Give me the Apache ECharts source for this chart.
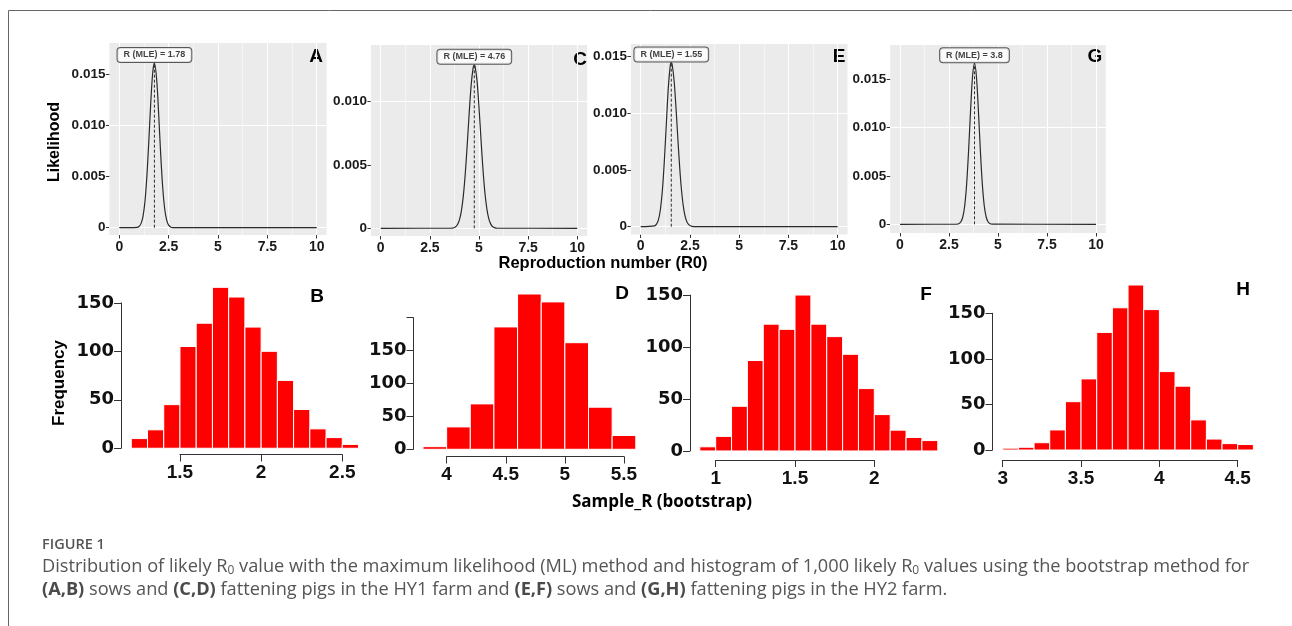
<!DOCTYPE html>
<html><head><meta charset="utf-8">
<script src="https://cdn.jsdelivr.net/npm/echarts@6/dist/echarts.min.js"></script>
<style>html,body{margin:0;padding:0;background:#fff}#c{width:1292px;height:626px}</style>
</head><body><div id="c"></div><script>
// ---------------- DATA ----------------
const mleLetters = ['A', 'C', 'E', 'G'];
const histLetters = ['B', 'D', 'F', 'H'];
const mleValues = [1.78, 4.76, 1.55, 3.8];
const mlePeaks = [0.0161, 0.0129, 0.01446, 0.01666];

const curveAx = [0, 0.9, 1.0, 1.1, 1.2, 1.3, 1.4, 1.5, 1.6, 1.7, 1.78, 1.9, 2.0, 2.1, 2.2, 2.3, 2.4, 2.5, 2.6, 2.7, 10];
const curveAy = [0, 0.00003, 0.00012, 0.0004, 0.00109, 0.00255, 0.00507, 0.0086, 0.01243, 0.0153, 0.0161, 0.01435, 0.01093, 0.0071, 0.00393, 0.00185, 0.00074, 0.00025, 0.00007, 0, 0];
const curveCx = [0, 3.6, 3.8, 3.9, 4.0, 4.1, 4.2, 4.3, 4.4, 4.5, 4.6, 4.7, 4.76, 4.8, 4.9, 5.0, 5.1, 5.2, 5.3, 5.4, 5.5, 5.6, 5.7, 5.9, 10];
const curveCy = [0, 0.00001, 0.00011, 0.00028, 0.00064, 0.00134, 0.00252, 0.00429, 0.00657, 0.00907, 0.01129, 0.01266, 0.0129, 0.01279, 0.01165, 0.00956, 0.00707, 0.00471, 0.00283, 0.00153, 0.00075, 0.00033, 0.00013, 0.00001, 0];
const curveEx = [0, 0.7, 0.8, 0.9, 1.0, 1.1, 1.2, 1.3, 1.4, 1.5, 1.55, 1.6, 1.7, 1.8, 1.9, 2.0, 2.1, 2.2, 2.3, 2.4, 2.5, 2.6, 2.8, 10];
const curveEy = [0, 0.00007, 0.00023, 0.00063, 0.00154, 0.00323, 0.00584, 0.0091, 0.01224, 0.0142, 0.01446, 0.01426, 0.01276, 0.01021, 0.00732, 0.00469, 0.00269, 0.00138, 0.00063, 0.00026, 0.0001, 0.00003, 0, 0];
const curveGx = [0, 2.9, 3.0, 3.1, 3.2, 3.3, 3.4, 3.5, 3.6, 3.7, 3.8, 3.9, 4.0, 4.1, 4.2, 4.3, 4.4, 4.5, 4.6, 4.7, 10];
const curveGy = [0, 0.00002, 0.00006, 0.00024, 0.00073, 0.0019, 0.00416, 0.00763, 0.01177, 0.01528, 0.01666, 0.01528, 0.01177, 0.00763, 0.00416, 0.0019, 0.00073, 0.00024, 0.00006, 0.00002, 0];

const likXTicks = [0, 2.5, 5, 7.5, 10];
const likYTicksA = [0, 0.005, 0.010, 0.015];
const likYTicksC = [0, 0.005, 0.010];
const likYTicksE = [0, 0.005, 0.010, 0.015];
const likYTicksG = [0, 0.005, 0.010, 0.015];

const histStarts = [1.2, 3.8, 0.9, 3.0];
const histBinWidths = [0.1, 0.2, 0.1, 0.1];
const countsB = [10, 19, 45, 105, 129, 166, 156, 125, 100, 70, 40, 20, 11, 4];
const countsD = [4, 34, 69, 186, 236, 224, 162, 64, 21];
const countsF = [4, 14, 43, 87, 122, 117, 150, 122, 110, 93, 60, 35, 20, 13, 10];
const countsH = [2, 3, 8, 22, 53, 78, 129, 156, 181, 154, 86, 70, 33, 12, 7, 6];

const histXTicksB = [1.5, 2, 2.5];
const histXTicksD = [4, 4.5, 5, 5.5];
const histXTicksF = [1, 1.5, 2];
const histXTicksH = [3, 3.5, 4, 4.5];
const histYTicksB = [0, 50, 100, 150];
const histYTicksD = [0, 50, 100, 150, 200];
const histYTicksF = [0, 50, 100, 150];
const histYTicksH = [0, 50, 100, 150];
const histYUnlabelled = [[], [200], [], []];

const yTitleTop = 'Likelihood';
const yTitleBottom = 'Frequency';
const xTitleTop = 'Reproduction number (R0)';
const xTitleBottom = 'Sample_R (bootstrap)';
const labelPrefix = 'R (MLE) = ';

// ---------------- LAYOUT ----------------
const plotFont = '"Liberation Sans", Arial, Helvetica, sans-serif';
const wideFont = '"DejaVu Sans", Verdana, sans-serif';
const curvesX = [curveAx, curveCx, curveEx, curveGx];
const curvesY = [curveAy, curveCy, curveEy, curveGy];
const likYTicks = [likYTicksA, likYTicksC, likYTicksE, likYTicksG];
const counts = [countsB, countsD, countsF, countsH];
const histXTicks = [histXTicksB, histXTicksD, histXTicksF, histXTicksH];
const histYTicks = [histYTicksB, histYTicksD, histYTicksF, histYTicksH];

const topXRange = [-0.5, 10.5];
const topLayout = [
  {l: 109.4, r: 326.6, t: 43, b: 235, ymin: -0.000714, ymax: 0.01807},
  {l: 370.9, r: 587.1, t: 45, b: 236, ymin: -0.000608, ymax: 0.01448},
  {l: 630.9, r: 847.5, t: 44, b: 234.5, ymin: -0.000688, ymax: 0.01611},
  {l: 890.2, r: 1105.8, t: 45, b: 233, ymin: -0.0009, ymax: 0.01856}
];
const botLayout = [
  {l: 122.2, r: 367.6, t: 280.9, b: 454.7, axX: 121, axY: 454.5},
  {l: 414.5, r: 644.3, t: 287.8, b: 455.5, axX: 413.5, axY: 456.5},
  {l: 690.3, r: 947.3, t: 288.8, b: 457.2, axX: 690, axY: 460},
  {l: 992.7, r: 1263.4, t: 278.4, b: 456.6, axX: 992.5, axY: 460}
];
const topLetterPos = [[316, 57], [580, 60], [839, 57], [1095, 57]];
const botLetterPos = [[317, 297], [622, 294], [926, 295], [1243, 290]];

const grids = [], xAxes = [], yAxes = [], series = [];
function addGrid(l, t, w, h, bg) {
  const g = {left: l, top: t, width: w, height: h, containLabel: false};
  if (bg) { g.show = true; g.backgroundColor = bg; g.borderWidth = 0; }
  grids.push(g);
  return grids.length - 1;
}
const hiddenAxis = {show: false, splitLine: {show: false}};

// ---- top (likelihood) panels ----
for (let i = 0; i < 4; i++) {
  const L = topLayout[i];
  const [x0, x1] = topXRange;
  const px = v => L.l + (v - x0) / (x1 - x0) * (L.r - L.l);
  const py = v => L.b - (v - L.ymin) / (L.ymax - L.ymin) * (L.b - L.t);
  const g = addGrid(L.l, L.t, L.r - L.l, L.b - L.t, '#EBEBEB');
  xAxes.push(Object.assign({type: 'value', gridIndex: g, min: x0, max: x1}, hiddenAxis));
  yAxes.push(Object.assign({type: 'value', gridIndex: g, min: L.ymin, max: L.ymax}, hiddenAxis));

  // grid lines (major + minor)
  const yt = likYTicks[i], xt = likXTicks;
  const ml = [];
  const ys = yt[1] - yt[0], xs = xt[1] - xt[0];
  yt.forEach(v => ml.push({yAxis: v, lineStyle: {width: 1.1}}));
  [yt[0] - ys / 2].concat(yt.map(v => v + ys / 2)).filter(v => v > L.ymin && v < L.ymax)
    .forEach(v => ml.push({yAxis: v, lineStyle: {width: 0.5}}));
  xt.forEach(v => ml.push({xAxis: v, lineStyle: {width: 1.1}}));
  [xt[0] - xs / 2].concat(xt.map(v => v + xs / 2)).filter(v => v > x0 && v < x1)
    .forEach(v => ml.push({xAxis: v, lineStyle: {width: 0.5}}));
  series.push({type: 'line', xAxisIndex: g, yAxisIndex: g, data: [], silent: true, z: 1,
    markLine: {silent: true, z: 1, symbol: ['none', 'none'], label: {show: false}, animation: false,
      emphasis: {disabled: true}, lineStyle: {color: '#FFFFFF', type: 'solid', width: 1}, data: ml}});

  // likelihood curve
  series.push({type: 'line', xAxisIndex: g, yAxisIndex: g, silent: true, z: 3,
    data: curvesX[i].map((x, k) => [x, curvesY[i][k]]), showSymbol: false, smooth: 0.3,
    lineStyle: {color: '#2b2b2b', width: 1.2}});
  // dashed MLE line
  series.push({type: 'line', xAxisIndex: g, yAxisIndex: g, silent: true, z: 3,
    data: [[mleValues[i], 0], [mleValues[i], mlePeaks[i]]], showSymbol: false,
    lineStyle: {color: '#2b2b2b', width: 1, type: [3, 2]}});
  // MLE label
  series.push({type: 'scatter', xAxisIndex: g, yAxisIndex: g, silent: true, z: 4,
    data: [[mleValues[i], mlePeaks[i] * 1.05]], symbolSize: 1,
    itemStyle: {color: 'rgba(0,0,0,0)'},
    label: {show: true, position: 'inside', formatter: labelPrefix + mleValues[i],
      fontFamily: plotFont, fontWeight: 'bold', fontSize: 9, color: '#111', lineHeight: 11,
      backgroundColor: '#FFFFFF', borderColor: '#333', borderWidth: 1, borderRadius: 3, padding: [2, 6, 1, 6]}});

  // axes: x axis on a grid spanning the tick range horizontally, sitting on the panel bottom
  const tickStyle = {show: true, inside: false, length: 3.5, lineStyle: {color: '#333', width: 1}};
  const lab = {show: true, showMinLabel: true, showMaxLabel: true, fontFamily: plotFont,
    fontWeight: 'bold', color: '#1a1a1a', margin: 4};
  const gx = addGrid(px(xt[0]), L.t, px(xt[xt.length - 1]) - px(xt[0]), L.b - L.t);
  xAxes.push({type: 'value', gridIndex: gx, min: xt[0], max: xt[xt.length - 1], interval: xs,
    position: 'bottom', axisLine: {show: false}, axisTick: tickStyle, splitLine: {show: false},
    axisLabel: Object.assign({}, lab, {fontSize: 14, margin: 5, formatter: v => String(v)})});
  yAxes.push(Object.assign({type: 'value', gridIndex: gx}, hiddenAxis));
  // y axis on a grid spanning the tick range vertically, sitting on the panel left edge
  const gy = addGrid(L.l, py(yt[yt.length - 1]), L.r - L.l, py(yt[0]) - py(yt[yt.length - 1]));
  xAxes.push(Object.assign({type: 'value', gridIndex: gy}, hiddenAxis));
  yAxes.push({type: 'value', gridIndex: gy, min: yt[0], max: yt[yt.length - 1], interval: ys,
    position: 'left', axisLine: {show: false}, axisTick: tickStyle, splitLine: {show: false},
    axisLabel: Object.assign({}, lab, {fontSize: 13.5, formatter: v => (v === 0 ? '0' : v.toFixed(3))})});
}

// ---- bottom (histogram) panels ----
for (let i = 0; i < 4; i++) {
  const L = botLayout[i];
  const c = counts[i];
  const start = histStarts[i], bw = histBinWidths[i];
  const end = start + bw * c.length;
  const xmin = start - 0.04 * (end - start), xmax = end + 0.04 * (end - start);
  const cmax = Math.max(...c);
  const ymin = -0.04 * cmax, ymax = 1.04 * cmax;
  const px = v => L.l + (v - xmin) / (xmax - xmin) * (L.r - L.l);
  const py = v => L.b - (v - ymin) / (ymax - ymin) * (L.b - L.t);

  const g = addGrid(L.l, L.t, L.r - L.l, L.b - L.t);
  xAxes.push(Object.assign({type: 'value', gridIndex: g, min: xmin, max: xmax}, hiddenAxis));
  yAxes.push(Object.assign({type: 'value', gridIndex: g, min: ymin, max: ymax}, hiddenAxis));
  series.push({type: 'custom', xAxisIndex: g, yAxisIndex: g, silent: true,
    encode: {x: [0, 1], y: 2},
    data: c.map((n, k) => [start + k * bw, start + (k + 1) * bw, n]),
    renderItem: (params, api) => {
      const p0 = api.coord([api.value(0), api.value(2)]);
      const p1 = api.coord([api.value(1), 0]);
      return {type: 'rect', shape: {x: p0[0], y: p0[1], width: p1[0] - p0[0], height: p1[1] - p0[1]},
        style: {fill: '#FF0000', stroke: '#FFFFFF', lineWidth: 1}};
    }});

  const xt = histXTicks[i], yt = histYTicks[i];
  const axLine = {show: true, lineStyle: {color: '#333', width: 1}};
  const tick = {show: true, inside: false, length: 7, lineStyle: {color: '#333', width: 1}};
  const gx = addGrid(px(xt[0]), L.t, px(xt[xt.length - 1]) - px(xt[0]), L.axY - L.t);
  xAxes.push({type: 'value', gridIndex: gx, min: xt[0], max: xt[xt.length - 1], interval: xt[1] - xt[0],
    position: 'bottom', axisLine: axLine, axisTick: tick, splitLine: {show: false},
    axisLabel: {show: true, showMinLabel: true, showMaxLabel: true, fontFamily: plotFont,
      fontWeight: 'bold', fontSize: 19, color: '#111', margin: 9, formatter: v => String(v)}});
  yAxes.push(Object.assign({type: 'value', gridIndex: gx}, hiddenAxis));
  const gy = addGrid(L.axX, py(yt[yt.length - 1]), L.r - L.axX, py(yt[0]) - py(yt[yt.length - 1]));
  xAxes.push(Object.assign({type: 'value', gridIndex: gy}, hiddenAxis));
  const hide = histYUnlabelled[i];
  yAxes.push({type: 'value', gridIndex: gy, min: yt[0], max: yt[yt.length - 1], interval: yt[1] - yt[0],
    position: 'left', axisLine: axLine, axisTick: tick, splitLine: {show: false},
    axisLabel: {show: true, showMinLabel: true, showMaxLabel: true, fontFamily: wideFont,
      fontWeight: 'bold', fontSize: 18, color: '#111', margin: 7,
      formatter: v => (hide.indexOf(v) >= 0 ? '' : String(v))}});
}

// ---- texts ----
const graphic = [
  {type: 'polyline', silent: true, shape: {points: [[8.5, 626], [8.5, 10.5], [1292, 10.5]]},
    style: {stroke: '#666', lineWidth: 1, fill: null}}
];
function txt(x, y, text, font, opts) {
  graphic.push(Object.assign({type: 'text', x: x, y: y, silent: true,
    style: {text: text, font: font, fill: '#000', align: 'center', verticalAlign: 'middle',
      textAlign: 'center', textVerticalAlign: 'middle'}}, opts || {}));
}
mleLetters.forEach((s, i) => txt(topLetterPos[i][0], topLetterPos[i][1], s, 'bold 19px ' + plotFont));
histLetters.forEach((s, i) => txt(botLetterPos[i][0], botLetterPos[i][1], s, 'bold 19px ' + plotFont));
txt(55, 142, yTitleTop, 'bold 16px ' + plotFont, {rotation: Math.PI / 2});
txt(59, 383, yTitleBottom, 'bold 17px ' + plotFont, {rotation: Math.PI / 2});
txt(603, 263, xTitleTop, 'bold 16.5px ' + plotFont);
txt(662, 502, xTitleBottom, 'bold 17px "Open Sans", sans-serif');

const capFont = '"Open Sans", "Lato", sans-serif';
graphic.push({type: 'text', x: 42, y: 545, silent: true,
  style: {text: 'FIGURE 1', font: '600 14.5px ' + capFont, fill: '#555', align: 'left', verticalAlign: 'middle',
    textAlign: 'left', textVerticalAlign: 'middle'}});
const capRich = {
  sub: {fontSize: 12, fontFamily: capFont, fill: '#555', color: '#555', verticalAlign: 'bottom', padding: [7, 0, 0, 0]},
  b: {fontSize: 18.2, fontFamily: capFont, fontWeight: 'bold', fill: '#4a4a4a', color: '#4a4a4a'}
};
const capLines = [
  'Distribution of likely R{sub|0} value with the maximum likelihood (ML) method and histogram of 1,000 likely R{sub|0} values using the bootstrap method for',
  '{b|(A,B)} sows and {b|(C,D)} fattening pigs in the HY1 farm and {b|(E,F)} sows and {b|(G,H)} fattening pigs in the HY2 farm.'
];
capLines.forEach((t, k) => graphic.push({type: 'text', x: 42, y: 567 + k * 23, silent: true,
  style: {text: t, rich: capRich, font: '18.2px ' + capFont, fill: '#555', align: 'left', verticalAlign: 'middle',
    textAlign: 'left', textVerticalAlign: 'middle'}}));

const chart = echarts.init(document.getElementById('c'), null, {renderer: 'canvas'});
chart.setOption({animation: false, backgroundColor: '#FFFFFF', grid: grids, xAxis: xAxes, yAxis: yAxes,
  series: series, graphic: graphic});
</script></body></html>
